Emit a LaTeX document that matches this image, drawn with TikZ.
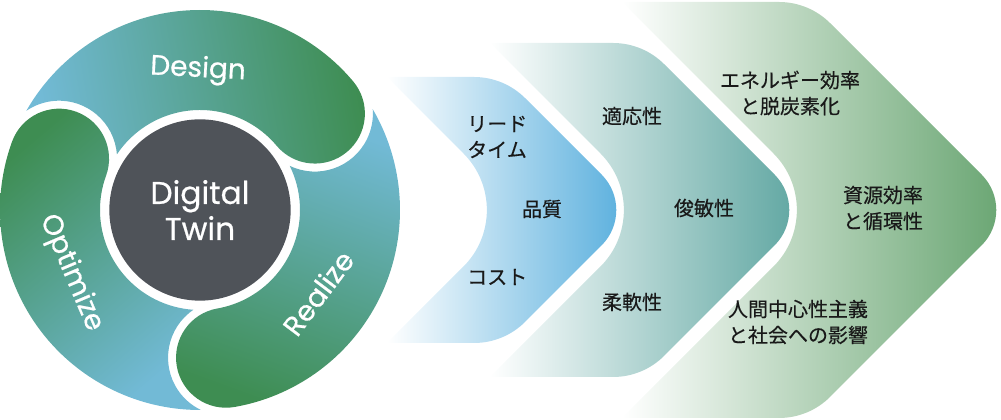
\documentclass[tikz,border=0pt]{standalone}
\usepackage{fontspec}
\setmainfont{Poppins}
\newfontfamily\jpfont{Noto Sans CJK JP}[FakeBold=0.35]
\newfontfamily\twinfont{Poppins}[FakeBold=0.6]
\definecolor{ringblue}{HTML}{72BAD6}
\definecolor{ringgreen}{HTML}{3E8D52}
\definecolor{twingray}{HTML}{4F5359}
\definecolor{chevblue}{HTML}{5DB1DE}
\definecolor{chevteal}{HTML}{62A8A3}
\definecolor{chevgreen}{HTML}{6AA673}
\newcommand{\ringpart}[2]{%
  \shade[left color=ringblue, right color=ringgreen, shading angle=#2]
    ({#1+110.26}:200) arc[start angle={#1+110.26}, end angle=#1, radius=200]
    arc[start angle=#1, end angle={#1-180}, radius=50]
    arc[start angle=#1, end angle={#1+106.22}, radius=100]
    arc[start angle={#1-35.75}, end angle={#1+84.32}, radius=58]
    -- cycle;}
\newcommand{\chevron}[4]{%
  \shade[left color=white, right color=#4]
    (#1,{210+#3}) -- ({#2-30},{210+#3})
    arc[start angle=90, end angle=45, radius=72.4]
    -- ({#2+#3-35.36},245.36)
    arc[start angle=45, end angle=-45, radius=50]
    -- ({#2+21.2},{231.2-#3})
    arc[start angle=-45, end angle=-90, radius=72.4]
    -- (#1,{210-#3}) -- ({#1+#3-56.57},153.43)
    arc[start angle=-45, end angle=45, radius=80]
    -- cycle;}
\tikzset{
  seglabel/.style={text=white, inner sep=0pt, font=\twinfont\fontsize{21}{25}\selectfont},
  twin/.style={circle, fill=twingray, minimum size=136pt, inner sep=0pt, text=white,
    align=center, font=\twinfont\fontsize{23.5}{27}\selectfont},
  jptext/.style={inner sep=0pt, text=black!90, font=\jpfont\fontsize{15}{19.5}\selectfont},
}
\begin{document}
\begin{tikzpicture}[x=0.75pt,y=0.75pt]
  \useasboundingbox (0,0) rectangle (1001,420);
  \chevron{622}{809}{208}{chevgreen}
  \chevron{490}{643}{167}{chevteal}
  \chevron{387}{504}{133}{chevblue}
  \begin{scope}[shift={(200,210)}]
    \ringpart{40}{100}
    \ringpart{-80}{-20}
    \ringpart{160}{220}
  \end{scope}
  \node[twin] (twin) at (200,210) {Digital\\Twin};
  \node[seglabel, rotate=-3] (design) at (198,350) {Design};
  \node[seglabel, rotate=53] (realize) at (318,127) {Realize};
  \node[seglabel, rotate=-67] (optimize) at (71,147) {Optimize};
  \node[jptext, align=left, anchor=west] (lead) at (467,283) {リード\\タイム};
  \node[jptext] (quality) at (542,211) {品質};
  \node[jptext, anchor=west] (cost) at (467,143) {コスト};
  \node[jptext] (adapt) at (632,304) {適応性};
  \node[jptext] (agile) at (704,212) {俊敏性};
  \node[jptext] (flex) at (632,118) {柔軟性};
  \node[jptext, align=center] (energy) at (790,327) {エネルギー効率\\と脱炭素化};
  \node[jptext, align=center] (resource) at (883,212) {資源効率\\と循環性};
  \node[jptext, align=center] (human) at (798,98) {人間中心性主義\\と社会への影響};
\end{tikzpicture}
\end{document}
